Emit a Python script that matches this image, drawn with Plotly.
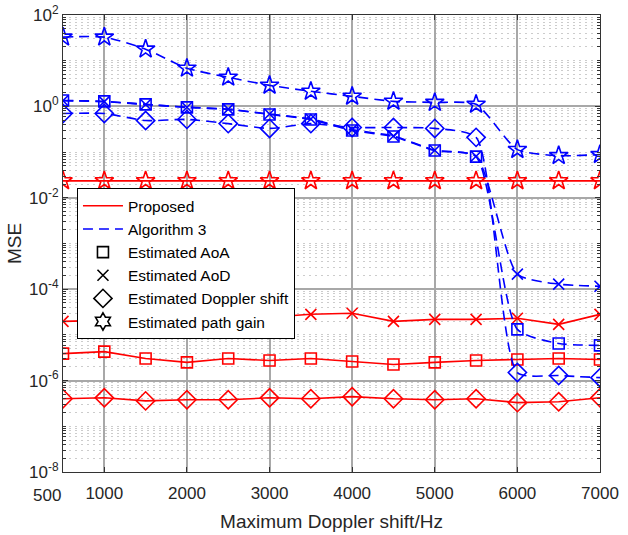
import plotly.graph_objects as go

doppler = [500, 1000, 1500, 2000, 2500, 3000, 3500, 4000, 4500, 5000, 5500, 6000, 6500, 7000]

# Proposed (red)
prop_aoa = [3.9e-6, 4.3e-6, 3.05e-6, 2.5e-6, 3.05e-6, 2.75e-6, 3.05e-6, 2.62e-6, 2.25e-6, 2.5e-6, 2.75e-6, 2.9e-6, 3.05e-6, 2.9e-6]
prop_aod = [1.98e-5, 2.08e-5, 1.79e-5, 2.43e-5, 1.88e-5, 2.43e-5, 2.82e-5, 2.97e-5, 1.98e-5, 2.19e-5, 2.19e-5, 2.31e-5, 1.70e-5, 2.82e-5]
prop_dop = [4.0e-7, 4.2e-7, 3.6e-7, 3.8e-7, 3.8e-7, 4.2e-7, 4.0e-7, 4.45e-7, 4.0e-7, 3.8e-7, 4.0e-7, 3.3e-7, 3.45e-7, 4.2e-7]
prop_gain = [0.0235, 0.0235, 0.0235, 0.0235, 0.0235, 0.0235, 0.0235, 0.0235, 0.0235, 0.0235, 0.0235, 0.0235, 0.0235, 0.0235]

# Algorithm 3 (blue)
alg_aoa = [1.35, 1.29, 1.11, 0.95, 0.86, 0.667, 0.518, 0.297, 0.219, 0.108, 0.0796, 1.32e-5, 6.5e-6, 5.9e-6]
alg_aod = [1.33, 1.27, 1.10, 0.96, 0.87, 0.68, 0.53, 0.31, 0.225, 0.11, 0.081, 2.14e-4, 1.29e-4, 1.16e-4]
alg_dop = [0.70, 0.70, 0.49, 0.52, 0.42, 0.33, 0.42, 0.345, 0.345, 0.33, 0.21, 1.5e-6, 1.29e-6, 1.16e-6]
alg_gain = [32.8, 32.8, 17.9, 6.84, 4.34, 2.89, 2.14, 1.66, 1.29, 1.22, 1.11, 0.1135, 0.0837, 0.0881]

x_tickvals = [500, 1000, 2000, 3000, 4000, 5000, 6000, 7000]
x_ticktext = ["", "1000", "2000", "3000", "4000", "5000", "6000", "7000"]
y_tickvals = [1e-8, 1e-6, 1e-4, 1e-2, 1, 1e2]
y_ticktext = ["10<sup>-8</sup>", "10<sup>-6</sup>", "10<sup>-4</sup>", "10<sup>-2</sup>",
              "10<sup>0</sup>", "10<sup>2</sup>"]

legend_names = ["Proposed", "Algorithm 3", "Estimated AoA", "Estimated AoD",
                "Estimated Doppler shift", "Estimated path gain"]

RED = "#FF0000"
BLUE = "#0000FF"
FONT = "Liberation Sans, Arial, sans-serif"
DASH = "10px,6px"

fig = go.Figure()

series = [
    (prop_aoa, RED, "solid", "square-open", 11, "linear"),
    (prop_aod, RED, "solid", "x-thin-open", 11, "linear"),
    (prop_dop, RED, "solid", "diamond-open", 14, "linear"),
    (prop_gain, RED, "solid", "star-open", 14, "linear"),
    (alg_aoa, BLUE, DASH, "square-open", 11, "spline"),
    (alg_aod, BLUE, DASH, "x-thin-open", 11, "spline"),
    (alg_dop, BLUE, DASH, "diamond-open", 14, "spline"),
    (alg_gain, BLUE, DASH, "star-open", 14, "spline"),
]
for ys, col, dash, sym, size, shape in series:
    fig.add_trace(go.Scatter(
        x=doppler, y=ys, mode="lines+markers",
        line=dict(color=col, width=1.6, dash=dash, shape=shape, smoothing=0.6),
        marker=dict(symbol=sym, size=size, color=col, line=dict(color=col, width=1.6)),
        showlegend=False, hoverinfo="skip"))

# legend entries
fig.add_trace(go.Scatter(x=[None], y=[None], mode="lines", name=legend_names[0],
                         line=dict(color=RED, width=1.6)))
fig.add_trace(go.Scatter(x=[None], y=[None], mode="lines", name=legend_names[1],
                         line=dict(color=BLUE, width=1.6, dash=DASH)))
for name, sym, size in zip(legend_names[2:], ["square-open", "x-thin-open", "diamond-open", "hexagram-open"],
                           [11, 11, 14, 13]):
    fig.add_trace(go.Scatter(x=[None], y=[None], mode="markers", name=name,
                             marker=dict(symbol=sym, size=size, color="black",
                                         line=dict(color="black", width=1.6))))

fig.update_layout(
    width=628, height=535,
    margin=dict(l=63, r=28, t=15, b=63),
    paper_bgcolor="white", plot_bgcolor="white",
    font=dict(family=FONT, size=17, color="#262626"),
    legend=dict(x=0.026, y=0.621, xanchor="left", yanchor="top",
                bgcolor="white", bordercolor="black", borderwidth=1,
                font=dict(size=15.5, color="black"), tracegroupgap=0,
                itemwidth=40),
    annotations=[dict(x=500, y=0, xref="x", yref="paper", text="500", showarrow=False,
                      xanchor="center", yanchor="top", xshift=-16, yshift=-12,
                      font=dict(size=17, color="#262626"))],
)
fig.update_xaxes(
    range=[500, 7000], tickvals=x_tickvals, ticktext=x_ticktext,
    showline=True, linecolor="#333333", linewidth=1, mirror="ticks",
    ticks="inside", ticklen=5, tickcolor="#333333", ticklabelstandoff=6,
    showgrid=True, gridcolor="#a8a8a8", gridwidth=1.5,
    automargin=False,
    title=dict(text="Maximum Doppler shift/Hz", font=dict(size=19), standoff=12),
    tickfont=dict(size=17), zeroline=False,
)
fig.update_yaxes(
    type="log", range=[-8, 2], tickvals=y_tickvals, ticktext=y_ticktext,
    showline=True, linecolor="#333333", linewidth=1, mirror="ticks",
    ticks="inside", ticklen=5, tickcolor="#333333",
    showgrid=True, gridcolor="#a8a8a8", gridwidth=1.5,
    automargin=False,
    minor=dict(dtick="D1", showgrid=True, gridcolor="#cccccc", griddash="2px,4px", gridwidth=1,
               ticks="inside", ticklen=3, tickcolor="#333333"),
    title=dict(text="MSE", font=dict(size=19), standoff=2),
    tickfont=dict(size=17), zeroline=False,
)

fig.write_html("out.html")
